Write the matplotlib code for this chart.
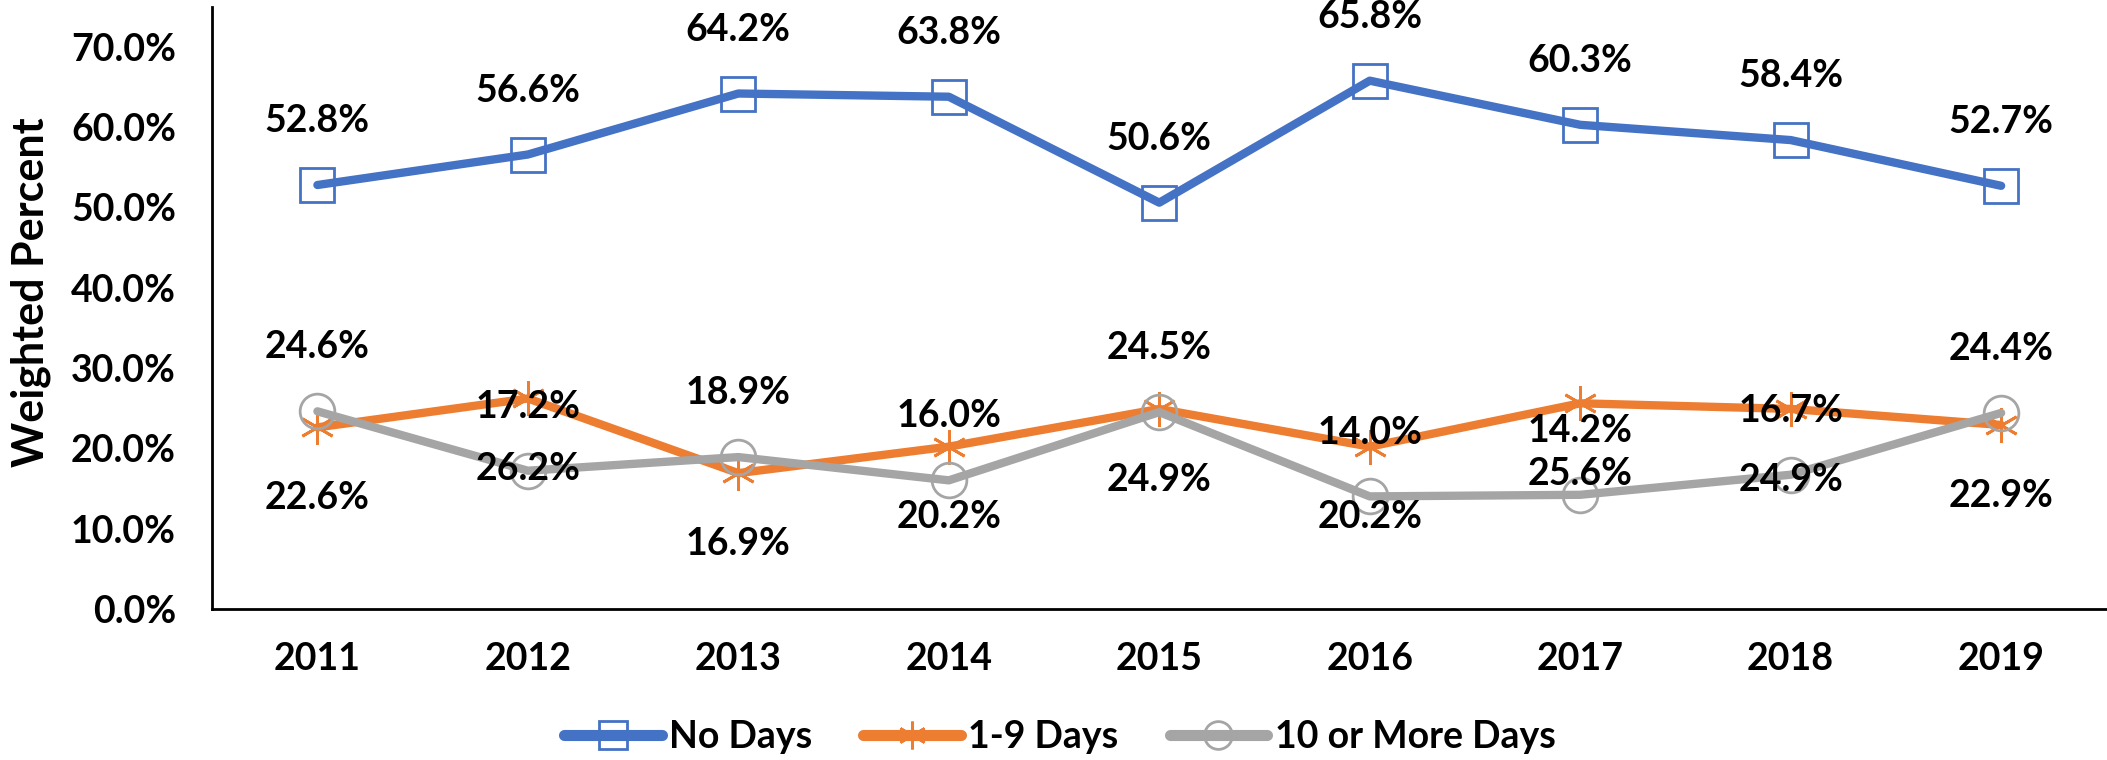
import matplotlib.pyplot as plt
from matplotlib.ticker import PercentFormatter

plt.rcParams['font.family'] = ['Lato', 'DejaVu Sans']
plt.rcParams['font.weight'] = 'bold'

years = ['2011', '2012', '2013', '2014', '2015', '2016', '2017', '2018', '2019']
no_days = [52.8, 56.6, 64.2, 63.8, 50.6, 65.8, 60.3, 58.4, 52.7]
one_nine = [22.6, 26.2, 16.9, 20.2, 24.9, 20.2, 25.6, 24.9, 22.9]
ten_more = [24.6, 17.2, 18.9, 16.0, 24.5, 14.0, 14.2, 16.7, 24.4]

fig = plt.figure(figsize=(21.07, 7.6), dpi=100)
ax = fig.add_axes([0.1007, 0.199, 0.899, 0.792])

xs = range(len(years))

# series: values, colour, marker, label offset (points, + above / - below)
series = [
    (no_days, '#4472C4', 's', 'No Days', 46),
    (one_nine, '#ED7D31', (6, 2, 0), '1-9 Days', -51),
    (ten_more, '#A5A5A5', 'o', '10 or More Days', 46),
]

for vals, col, mk, name, off in series:
    ax.plot(xs, vals, color=col, linewidth=6, marker=mk, markersize=25,
            markerfacecolor='none', markeredgecolor=col, markeredgewidth=2,
            label=name, solid_capstyle='round')

for vals, col, mk, name, off in series:
    for x, v in zip(xs, vals):
        ax.annotate(f'{v:.1f}%', (x, v), xytext=(0, off),
                    textcoords='offset points', ha='center', va='center',
                    fontsize=27, fontweight='bold', color='black', zorder=10)

ax.set_xlim(-0.5, 8.5)
ax.set_ylim(0, 75)
ax.set_yticks(range(0, 71, 10))
ax.yaxis.set_major_formatter(PercentFormatter(decimals=1))
ax.set_xticks(list(xs))
ax.set_xticklabels(years)
ax.tick_params(length=0, labelsize=27)
ax.tick_params(axis='x', pad=24)
ax.tick_params(axis='y', pad=26)
for lab in ax.get_xticklabels() + ax.get_yticklabels():
    lab.set_fontweight('bold')

ax.set_ylabel('Weighted Percent', fontsize=31, fontweight='bold')
ax.yaxis.set_label_coords(-0.085, 0.526)

for s in ['top', 'right']:
    ax.spines[s].set_visible(False)
for s in ['left', 'bottom']:
    ax.spines[s].set_linewidth(2)

leg = ax.legend(loc='center', bbox_to_anchor=(0.503, 0.03), bbox_transform=fig.transFigure,
                ncol=3, frameon=False, fontsize=27, handlelength=2.6, handletextpad=0.2,
                columnspacing=1.36, markerscale=0.8)
for h in leg.get_lines():
    h.set_linewidth(8)

fig.savefig('out.png', dpi=100)
